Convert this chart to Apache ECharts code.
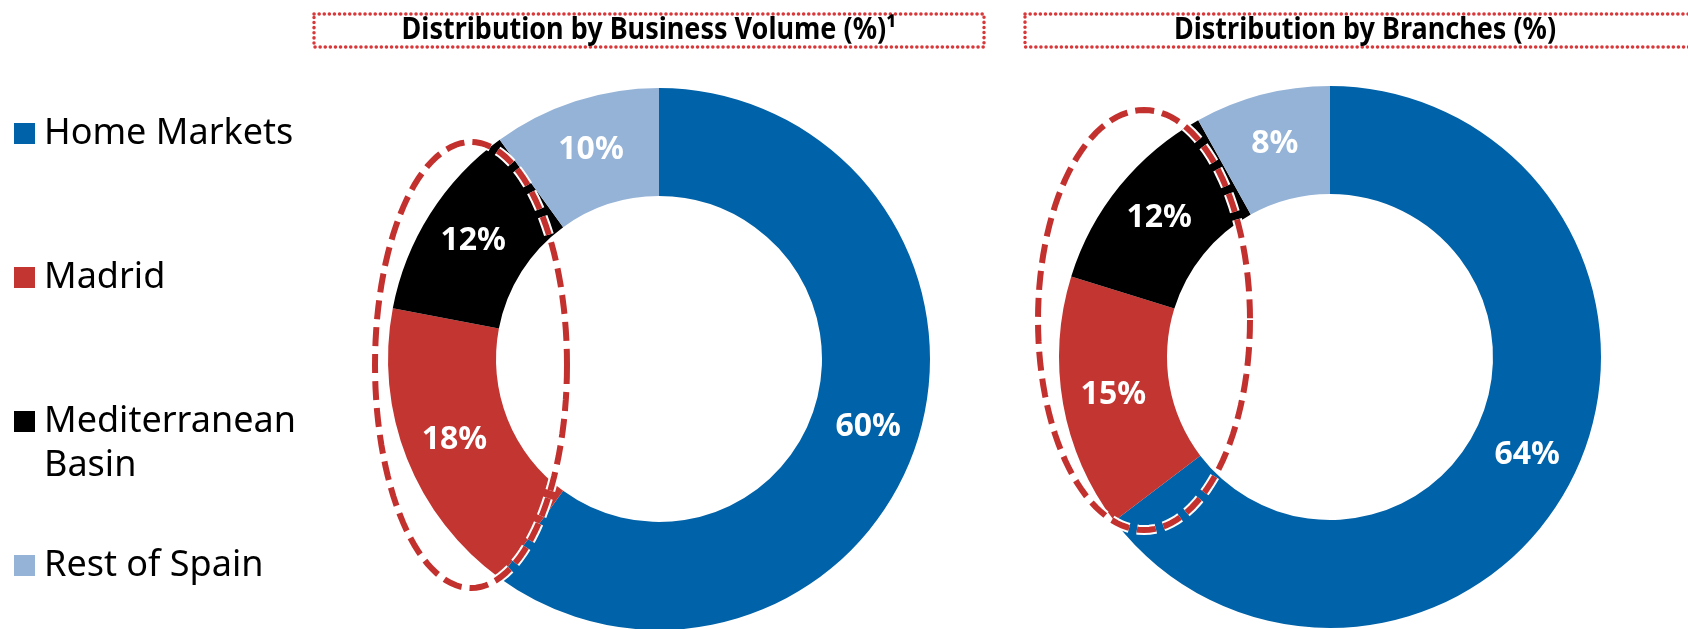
<!DOCTYPE html>
<html>
<head>
<meta charset="utf-8">
<script src="https://cdn.jsdelivr.net/npm/echarts@6/dist/echarts.min.js"></script>
<style>
  html, body { margin: 0; padding: 0; background: #fff; }
  #chart { width: 1688px; height: 629px; }
</style>
</head>
<body>
<div id="chart"></div>
<script>
// regions shown in both donuts and the legend
const categories = ['Home Markets', 'Madrid', 'Mediterranean Basin', 'Rest of Spain']
// shares in %
const businessVolume = [60, 18, 12, 10]
const branches = [64, 15, 12, 8]
const titles = ['Distribution by Business Volume (%)\u00b9', 'Distribution by Branches (%)']

const colors = ['#0062a8', '#c23531', '#000000', '#95b3d7']
const font = '"Noto Sans", sans-serif'

const chart = echarts.init(document.getElementById('chart'), null, { renderer: 'canvas' })

function toData(values) {
  return categories.map((name, i) => ({
    name: name,
    value: values[i],
    itemStyle: { color: colors[i] }
  }))
}

function pieSeries(values, center) {
  return {
    type: 'pie',
    center: center,
    radius: [163, 271],
    startAngle: 90,
    clockwise: true,
    avoidLabelOverlap: false,
    silent: true,
    itemStyle: { borderWidth: 0 },
    label: {
      show: true,
      position: 'inside',
      formatter: '{c}%',
      color: '#fff',
      fontFamily: font,
      fontWeight: 'bold',
      fontSize: 32
    },
    labelLine: { show: false },
    emphasis: { disabled: true },
    data: toData(values)
  }
}

// points of the dashed annotation ellipse
function ellipse(cx, cy, rx, ry) {
  const pts = []
  for (let k = 0; k <= 120; k++) {
    const a = k / 120 * Math.PI * 2
    pts.push([cx + rx * Math.cos(a), cy + ry * Math.sin(a)])
  }
  return pts
}

function ellipseGraphics(cx, cy, rx, ry) {
  const pts = ellipse(cx, cy, rx, ry)
  return [{
    type: 'polyline',
    z: 100,
    shape: { points: pts },
    style: { stroke: '#fff', lineWidth: 10, lineDash: [19, 8], fill: null }
  }, {
    type: 'polyline',
    z: 101,
    shape: { points: pts },
    style: { stroke: '#c3312f', lineWidth: 6, lineDash: [19, 8], fill: null }
  }]
}

function titleBox(x, w, text) {
  return [{
    type: 'rect',
    z: 10,
    shape: { x: x, y: 14, width: w, height: 33 },
    style: { fill: null, stroke: '#d9383a', lineWidth: 3.5, lineDash: [0.1, 5], lineCap: 'round' }
  }, {
    type: 'text',
    z: 11,
    x: x + w / 2,
    y: 31,
    scaleY: 1.1,
    style: {
      text: text,
      fill: '#000',
      font: 'bold 27px ' + font,
      align: 'center',
      verticalAlign: 'middle'
    }
  }]
}

const legendTops = [108.5, 252.5, 352.5, 540.5]

chart.setOption({
  animation: false,
  legend: categories.map((name, i) => ({
    data: [name],
    orient: 'vertical',
    left: 14,
    top: legendTops[i],
    padding: 0,
    itemWidth: 21,
    itemHeight: 21,
    icon: 'rect',
    selectedMode: false,
    itemStyle: { borderWidth: 0 },
    // keep the first line of the two-line label level with its square
    formatter: n => n === 'Mediterranean Basin' ? ' \nMediterranean\nBasin' : n,
    textStyle: {
      fontFamily: font,
      fontSize: 36,
      lineHeight: 44,
      color: '#000',
      padding: [6, 0, 0, 4]
    }
  })),
  series: [
    pieSeries(businessVolume, [659, 359]),
    pieSeries(branches, [1330, 357])
  ],
  graphic: [].concat(
    titleBox(314, 670, titles[0]),
    titleBox(1025, 680, titles[1]),
    ellipseGraphics(471, 365, 96, 223),
    ellipseGraphics(1144, 320, 106, 210)
  )
})
</script>
</body>
</html>
